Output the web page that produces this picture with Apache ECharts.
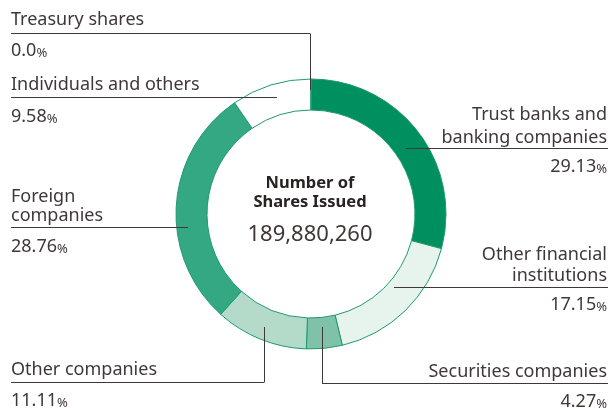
<!DOCTYPE html>
<html>
<head>
<meta charset="utf-8">
<script src="https://cdn.jsdelivr.net/npm/echarts@6/dist/echarts.min.js"></script>
<style>
  html, body { margin: 0; padding: 0; background: #fff; }
  #chart { width: 611px; height: 408px; }
</style>
</head>
<body>
<div id="chart"></div>
<script>
// Shareholder composition (clockwise from 12 o'clock)
const categories = [
  'Trust banks and\nbanking companies',
  'Other financial\ninstitutions',
  'Securities companies',
  'Other companies',
  'Foreign\ncompanies',
  'Individuals and others',
  'Treasury shares'
];
const shares = [29.13, 17.15, 4.27, 11.11, 28.76, 9.58, 0.0];
const centerTitle = 'Number of\nShares Issued';
const sharesIssued = '189,880,260';

const sliceColors = ['#008f5e', '#e7f3ed', '#80c2a9', '#b4dac9', '#33a883', '#ffffff', '#ffffff'];
const ink = '#403838';
const font = '"Noto Sans", "Open Sans", sans-serif';

// Label placement: text anchor, name line centres, underline, optional drop line to the ring
const labelLayout = [
  { side: 'right', names: [115, 138], rule: [406, 608, 148], value: 167 },
  { side: 'right', names: [255, 276], rule: [394, 608, 287], value: 305 },
  { side: 'right', names: [372], rule: [322, 608, 383], drop: [322, 327], value: 402 },
  { side: 'left', names: [370], rule: [11, 264, 382], drop: [264, 327], value: 401 },
  { side: 'left', names: [197, 216], rule: [11, 188, 227], value: 247 },
  { side: 'left', names: [85], rule: [11, 277, 97], value: 117 },
  { side: 'left', names: [20], rule: [11, 310, 33], drop: [310, 90], value: 51 }
];

function fmt(v) { return v === 0 ? '0.0' : v.toFixed(2); }

const graphics = [];
categories.forEach(function (name, i) {
  const L = labelLayout[i];
  const x = L.side === 'right' ? 607 : 11;
  const lines = name.split('\n');
  lines.forEach(function (ln, k) {
    graphics.push({
      type: 'text', x: x, y: L.names[k], z: 10,
      style: { text: ln, fill: ink, font: '18px ' + font, align: L.side, verticalAlign: 'middle' }
    });
  });
  graphics.push({
    type: 'line', z: 10,
    shape: { x1: L.rule[0], y1: L.rule[2] + 0.5, x2: L.rule[1], y2: L.rule[2] + 0.5 },
    style: { stroke: ink, lineWidth: 1 }
  });
  if (L.drop) {
    graphics.push({
      type: 'line', z: 10,
      shape: { x1: L.drop[0] + 0.5, y1: L.rule[2] + 0.5, x2: L.drop[0] + 0.5, y2: L.drop[1] },
      style: { stroke: ink, lineWidth: 1 }
    });
  }
  graphics.push({
    type: 'text', x: x, y: L.value, z: 10,
    style: {
      text: '{v|' + fmt(shares[i]) + '}{p|%}',
      align: L.side, verticalAlign: 'middle',
      rich: {
        v: { fill: ink, font: '18px ' + font },
        p: { fill: ink, font: '13px ' + font, padding: [4, 0, 0, 0] }
      }
    }
  });
});

const titleLines = centerTitle.split('\n');
graphics.push({
  type: 'text', x: 310, y: 183, z: 10,
  style: { text: titleLines[0], fill: '#2a2222', font: 'bold 16.5px ' + font, align: 'center', verticalAlign: 'middle' }
});
graphics.push({
  type: 'text', x: 310, y: 202, z: 10,
  style: { text: titleLines[1], fill: '#2a2222', font: 'bold 16.5px ' + font, align: 'center', verticalAlign: 'middle' }
});
graphics.push({
  type: 'text', x: 310, y: 235, z: 10,
  style: { text: sharesIssued, fill: ink, font: '22px ' + font, align: 'center', verticalAlign: 'middle' }
});

const chart = echarts.init(document.getElementById('chart'), null, { renderer: 'canvas' });
chart.setOption({
  animation: false,
  backgroundColor: '#ffffff',
  series: [{
    type: 'pie',
    center: [311, 214],
    radius: [104, 135],
    startAngle: 90,
    clockwise: true,
    minAngle: 0,
    avoidLabelOverlap: false,
    silent: true,
    label: { show: false },
    labelLine: { show: false },
    itemStyle: { borderColor: '#1f9a70', borderWidth: 1 },
    data: categories.map(function (c, i) {
      return { name: c, value: shares[i], itemStyle: { color: sliceColors[i] } };
    })
  }],
  graphic: graphics
});
</script>
</body>
</html>
